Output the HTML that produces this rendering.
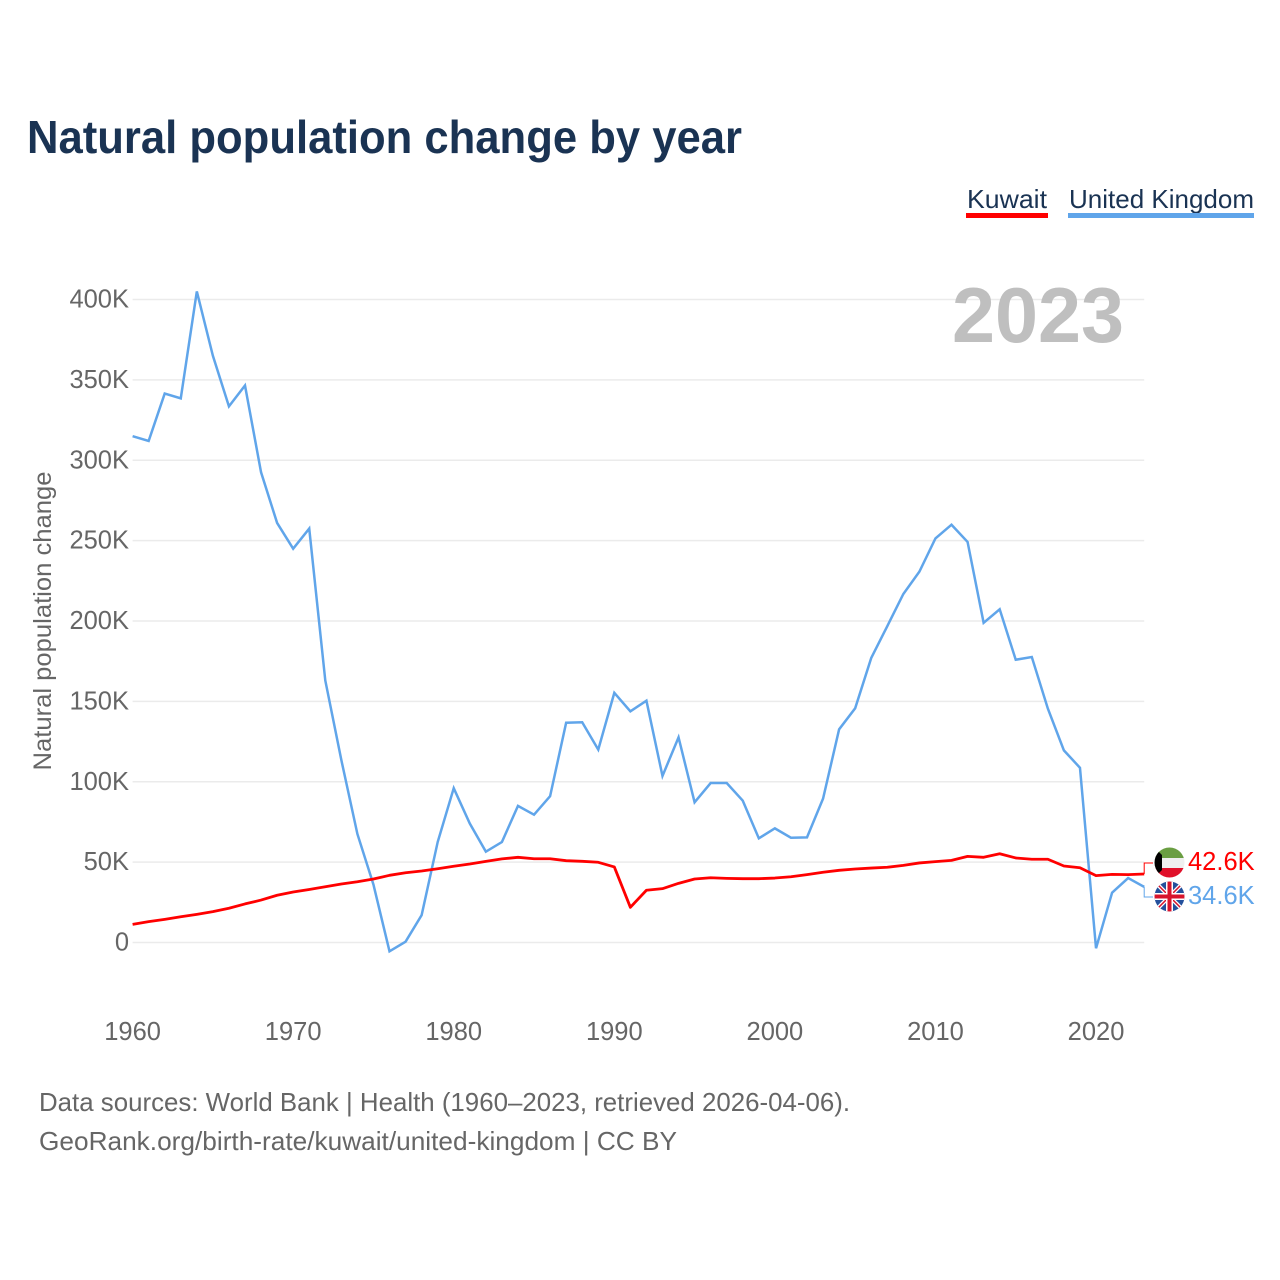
<!DOCTYPE html>
<html lang="en">
<head>
<meta charset="utf-8">
<title>Natural population change by year</title>
<style>
html,body{margin:0;padding:0;background:#fff;}
svg{display:block;font-family:"Liberation Sans",sans-serif;}
</style>
</head>
<body>
<svg id="chart" xmlns="http://www.w3.org/2000/svg" width="1280" height="1280" viewBox="0 0 1280 1280">
  <defs>
    <clipPath id="clip-kw"><circle cx="1169.5" cy="862.5" r="15"/></clipPath>
    <clipPath id="clip-uk"><circle cx="1169.5" cy="896.5" r="15"/></clipPath>
  </defs>
  <rect x="0" y="0" width="1280" height="1280" fill="#ffffff"/>
  <text x="27" y="153" font-size="46" font-weight="700" fill="#1a3353" textLength="715" lengthAdjust="spacingAndGlyphs">Natural population change by year</text>

  <g>
    <g>
      <text x="967" y="208" font-size="26" fill="#1a3353" textLength="80" lengthAdjust="spacingAndGlyphs">Kuwait</text>
      <rect x="966" y="213" width="82" height="5" fill="#ff0000"/>
    </g>
    <g>
      <text x="1069" y="208" font-size="26" fill="#1a3353" textLength="185" lengthAdjust="spacingAndGlyphs">United Kingdom</text>
      <rect x="1068" y="213" width="186" height="5" fill="#60a5ea"/>
    </g>
  </g>

  <g id="grid"></g>
  <g id="y-ticks"></g>
  <g id="x-ticks"></g>

  <text x="1124" y="342" font-size="78" font-weight="700" fill="#bfbfbf" text-anchor="end" textLength="172" lengthAdjust="spacingAndGlyphs">2023</text>

  <text transform="translate(51 621) rotate(-90)" font-size="25" fill="#666666" text-anchor="middle" textLength="299" lengthAdjust="spacingAndGlyphs">Natural population change</text>

  <g id="series"></g>
  <g id="end-labels"></g>

  <g clip-path="url(#clip-kw)">
    <rect x="1154" y="847" width="31" height="11" fill="#6a9e42"/>
    <rect x="1154" y="858" width="31" height="10" fill="#efefef"/>
    <rect x="1154" y="868" width="31" height="10" fill="#e0102a"/>
    <polygon points="1154,847 1162,855 1162,870 1154,878" fill="#000000"/>
  </g>
  <g clip-path="url(#clip-uk)">
    <rect x="1154" y="881" width="31" height="31" fill="#24509c"/>
    <line x1="1154" y1="881" x2="1185" y2="912" stroke="#ffffff" stroke-width="4"/>
    <line x1="1185" y1="881" x2="1154" y2="912" stroke="#ffffff" stroke-width="4"/>
    <line x1="1154" y1="881" x2="1185" y2="912" stroke="#d8142c" stroke-width="1.5"/>
    <line x1="1185" y1="881" x2="1154" y2="912" stroke="#d8142c" stroke-width="1.5"/>
    <rect x="1166" y="881" width="7" height="31" fill="#ffffff"/>
    <rect x="1154" y="893" width="31" height="7" fill="#ffffff"/>
    <rect x="1167.5" y="881" width="4" height="31" fill="#d8142c"/>
    <rect x="1154" y="894.5" width="31" height="4" fill="#d8142c"/>
  </g>

  <text x="39" y="1111" font-size="26" fill="#666666" textLength="811" lengthAdjust="spacingAndGlyphs">Data sources: World Bank | Health (1960–2023, retrieved 2026-04-06).</text>
  <text x="39" y="1150" font-size="26" fill="#666666" textLength="638" lengthAdjust="spacingAndGlyphs">GeoRank.org/birth-rate/kuwait/united-kingdom | CC BY</text>
</svg>
<script>
const firstYear = 1960;
const yTickValues = [0, 50000, 100000, 150000, 200000, 250000, 300000, 350000, 400000];
const yTickLabels = ["0", "50K", "100K", "150K", "200K", "250K", "300K", "350K", "400K"];
const xTickYears = [1960, 1970, 1980, 1990, 2000, 2010, 2020];
const kuwaitValues = [11300, 13000, 14400, 16000, 17500, 19200, 21300, 24000, 26400, 29400, 31400, 33000, 34700, 36400, 37800, 39500, 41800, 43400, 44500, 45900, 47400, 48800, 50500, 52000, 53000, 52100, 52100, 50900, 50500, 49900, 47000, 21900, 32500, 33500, 36800, 39500, 40300, 39900, 39700, 39700, 40100, 40900, 42200, 43700, 44900, 45700, 46300, 46800, 48000, 49500, 50300, 51100, 53600, 53000, 55200, 52600, 51800, 51800, 47600, 46500, 41600, 42400, 42200, 42600];
const ukValues = [315000, 312000, 341500, 338500, 405000, 365000, 333500, 346500, 292500, 261000, 245000, 257500, 163000, 113500, 67500, 36000, -5500, 500, 17000, 62500, 96000, 74000, 56500, 62500, 85000, 79500, 91000, 136700, 137000, 120000, 155300, 143800, 150400, 103600, 127600, 87200, 99200, 99200, 88200, 64800, 71000, 65200, 65400, 89500, 132600, 145700, 177000, 196800, 216800, 230700, 251400, 259900, 249200, 198900, 207300, 175900, 177600, 145500, 119500, 108700, -3600, 31000, 40100, 34600];
const kuwaitEndLabel = "42.6K";
const ukEndLabel = "34.6K";

const SVG_NS = "http://www.w3.org/2000/svg";
function xScale(year) { return 132.6 + (year - 1960) * (1144.2 - 132.6) / 63; }
function yScale(v) { return 942.5 - v * (942.5 - 299.5) / 400000; }
function svgEl(tag, parentId) {
  const el = document.createElementNS(SVG_NS, tag);
  document.getElementById(parentId).appendChild(el);
  return el;
}

yTickValues.forEach(function (v, i) {
  const line = svgEl("line", "grid");
  
  
  line.setAttribute("x1", xScale(1960));
  line.setAttribute("x2", xScale(2023));
  line.setAttribute("y1", yScale(v));
  line.setAttribute("y2", yScale(v));
  line.setAttribute("stroke", "#ebebeb");
  line.setAttribute("stroke-width", "1.5");

  const label = svgEl("text", "y-ticks");
  
  
  label.setAttribute("x", 129);
  label.setAttribute("y", yScale(v) + 8);
  label.setAttribute("font-size", "25.5");
  label.setAttribute("fill", "#666666");
  label.setAttribute("text-anchor", "end");
  label.textContent = yTickLabels[i];
});

xTickYears.forEach(function (year) {
  const label = svgEl("text", "x-ticks");
  
  
  label.setAttribute("x", xScale(year));
  label.setAttribute("y", 1040);
  label.setAttribute("font-size", "25.5");
  label.setAttribute("fill", "#666666");
  label.setAttribute("text-anchor", "middle");
  label.textContent = year;
});

function seriesPoints(values) {
  return values.map(function (v, i) {
    return xScale(firstYear + i).toFixed(2) + "," + yScale(v).toFixed(2);
  }).join(" ");
}

const ukLine = svgEl("polyline", "series");


ukLine.setAttribute("points", seriesPoints(ukValues));
ukLine.setAttribute("fill", "none");
ukLine.setAttribute("stroke", "#60a5ea");
ukLine.setAttribute("stroke-width", "2.5");
ukLine.setAttribute("stroke-linejoin", "miter");

const kwLine = svgEl("polyline", "series");


kwLine.setAttribute("points", seriesPoints(kuwaitValues));
kwLine.setAttribute("fill", "none");
kwLine.setAttribute("stroke", "#ff0000");
kwLine.setAttribute("stroke-width", "2.8");
kwLine.setAttribute("stroke-linejoin", "round");

const xEnd = xScale(firstYear + kuwaitValues.length - 1);
const kwEndY = yScale(kuwaitValues[kuwaitValues.length - 1]);
const ukEndY = yScale(ukValues[ukValues.length - 1]);

const kwConnector = svgEl("polyline", "end-labels");


kwConnector.setAttribute("points", xEnd + "," + kwEndY + " " + xEnd + ",863 1153,863");
kwConnector.setAttribute("fill", "none");
kwConnector.setAttribute("stroke", "#ff0000");
kwConnector.setAttribute("stroke-width", "1");

const ukConnector = svgEl("polyline", "end-labels");


ukConnector.setAttribute("points", xEnd + "," + ukEndY + " " + xEnd + ",897 1153,897");
ukConnector.setAttribute("fill", "none");
ukConnector.setAttribute("stroke", "#60a5ea");
ukConnector.setAttribute("stroke-width", "1");

const kwLabel = svgEl("text", "end-labels");


kwLabel.setAttribute("x", 1188);
kwLabel.setAttribute("y", 870);
kwLabel.setAttribute("font-size", "25.5");
kwLabel.setAttribute("fill", "#ff0000");
kwLabel.textContent = kuwaitEndLabel;

const ukLabel = svgEl("text", "end-labels");


ukLabel.setAttribute("x", 1188);
ukLabel.setAttribute("y", 904);
ukLabel.setAttribute("font-size", "25.5");
ukLabel.setAttribute("fill", "#60a5ea");
ukLabel.textContent = ukEndLabel;
</script>
</body>
</html>
